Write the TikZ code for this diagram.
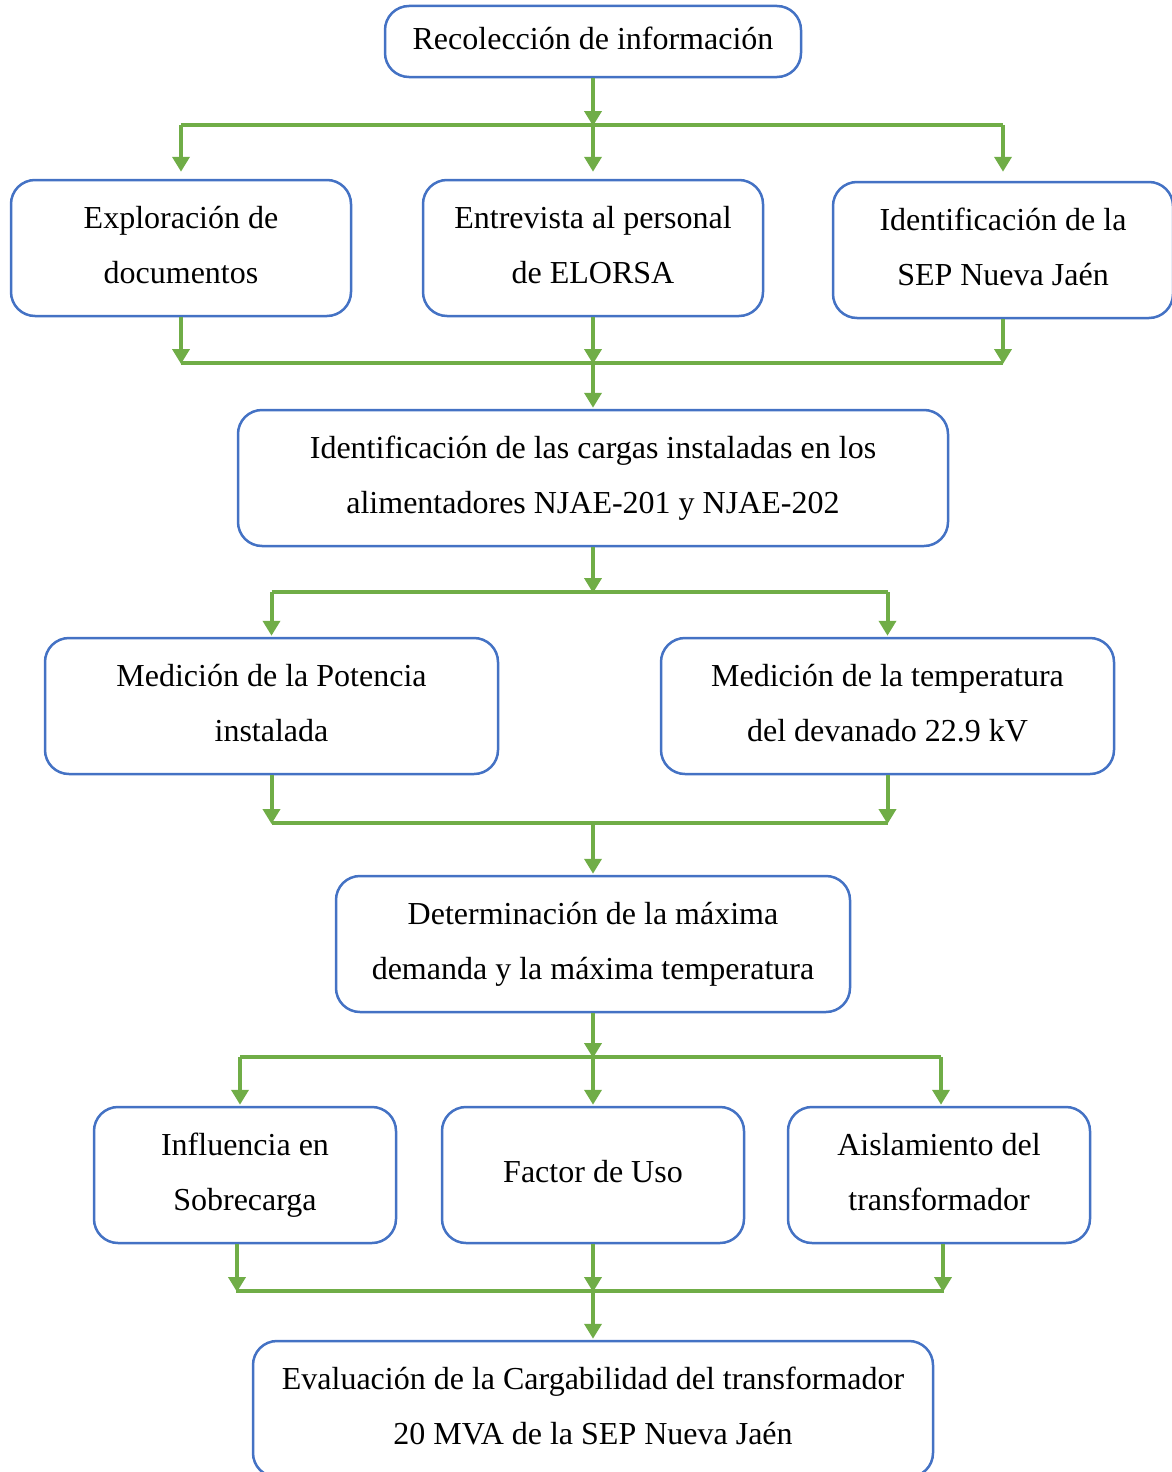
\documentclass[tikz,border=0pt]{standalone}
\usepackage{fontspec}
\setmainfont{Liberation Serif}
\usetikzlibrary{arrows.meta}
\definecolor{boxblue}{HTML}{4472C4}
\definecolor{arrgreen}{HTML}{70AD47}
\tikzset{
  box/.style={draw=boxblue, line width=2.5pt, rounded corners=24pt, fill=white,
    inner sep=0pt, align=center, text depth=7pt, font=\fontsize{32}{55}\selectfont},
  conn/.style={draw=arrgreen, line width=4pt},
  arr/.style={conn, -{Triangle[length=15pt,width=17pt]}, shorten >=-1pt}
}
\begin{document}
\begin{tikzpicture}[x=1pt,y=-1pt]
\useasboundingbox (0,0) rectangle (1171,1472);
% boxes
\node[box, minimum width=416pt, minimum height=71pt] (rec) at (593,41.5) {Recolección de información};
\node[box, minimum width=340pt, minimum height=136pt] (expl) at (181,248) {Exploración de\\documentos};
\node[box, minimum width=340pt, minimum height=136pt] (entr) at (593,248) {Entrevista al personal\\de ELORSA};
\node[box, minimum width=340pt, minimum height=136pt] (iden) at (1003,250) {Identificación de la\\SEP Nueva Jaén};
\node[box, minimum width=710pt, minimum height=136pt] (carg) at (593,478) {Identificación de las cargas instaladas en los\\alimentadores NJAE-201 y NJAE-202};
\node[box, minimum width=453pt, minimum height=136pt] (pot) at (271.5,706) {Medición de la Potencia\\instalada};
\node[box, minimum width=453pt, minimum height=136pt] (temp) at (887.5,706) {Medición de la temperatura\\del devanado 22.9 kV};
\node[box, minimum width=514pt, minimum height=136pt] (det) at (593,944) {Determinación de la máxima\\demanda y la máxima temperatura};
\node[box, minimum width=302pt, minimum height=136pt] (infl) at (245,1175) {Influencia en\\Sobrecarga};
\node[box, minimum width=302pt, minimum height=136pt] (fact) at (593,1175) {Factor de Uso};
\node[box, minimum width=302pt, minimum height=136pt] (aisl) at (939,1175) {Aislamiento del\\transformador};
\node[box, minimum width=680pt, minimum height=136pt] (eval) at (593,1409) {Evaluación de la Cargabilidad del transformador\\20 MVA de la SEP Nueva Jaén};
% bar coordinates
\coordinate (b1) at (593,125);
\coordinate (b2) at (593,363);
\coordinate (b3) at (593,592);
\coordinate (b4) at (593,823);
\coordinate (b5) at (593,1057);
\coordinate (b6) at (593,1291);
% level 1
\draw[arr] (rec.south) -- (b1);
\draw[conn] (expl.north |- b1) -- (iden.north |- b1);
\draw[arr] (expl.north |- b1) -- ([yshift=8pt]expl.north);
\draw[arr] (b1) -- ([yshift=8pt]entr.north);
\draw[arr] (iden.north |- b1) -- ([yshift=10pt]iden.north);
% level 2
\draw[conn] (expl.south |- b2) -- (iden.south |- b2);
\draw[arr] (expl.south) -- (expl.south |- b2);
\draw[arr] (entr.south) -- (b2);
\draw[arr] (iden.south) -- (iden.south |- b2);
\draw[arr] (b2) -- ([yshift=2pt]carg.north);
% level 3
\draw[arr] (carg.south) -- (b3);
\draw[conn] (pot.north |- b3) -- (temp.north |- b3);
\draw[arr] (pot.north |- b3) -- ([yshift=2pt]pot.north);
\draw[arr] (temp.north |- b3) -- ([yshift=2pt]temp.north);
% level 4
\draw[conn] (pot.south |- b4) -- (temp.south |- b4);
\draw[arr] (pot.south) -- (pot.south |- b4);
\draw[arr] (temp.south) -- (temp.south |- b4);
\draw[arr] (b4) -- ([yshift=2pt]det.north);
% level 5
\draw[arr] (det.south) -- (b5);
\draw[conn] ([xshift=-5pt]infl.north |- b5) -- ([xshift=2pt]aisl.north |- b5);
\draw[arr] ([xshift=-5pt]infl.north |- b5) -- ([xshift=-5pt,yshift=2pt]infl.north);
\draw[arr] (b5) -- ([yshift=2pt]fact.north);
\draw[arr] ([xshift=2pt]aisl.north |- b5) -- ([xshift=2pt,yshift=2pt]aisl.north);
% level 6
\draw[conn] ([xshift=-9pt]infl.south |- b6) -- ([xshift=5pt]aisl.south |- b6);
\draw[arr] ([xshift=-8pt]infl.south) -- ([xshift=-8pt]infl.south |- b6);
\draw[arr] (fact.south) -- (b6);
\draw[arr] ([xshift=4pt]aisl.south) -- ([xshift=4pt]aisl.south |- b6);
\draw[arr] (b6) -- ([yshift=2pt]eval.north);
\end{tikzpicture}
\end{document}
